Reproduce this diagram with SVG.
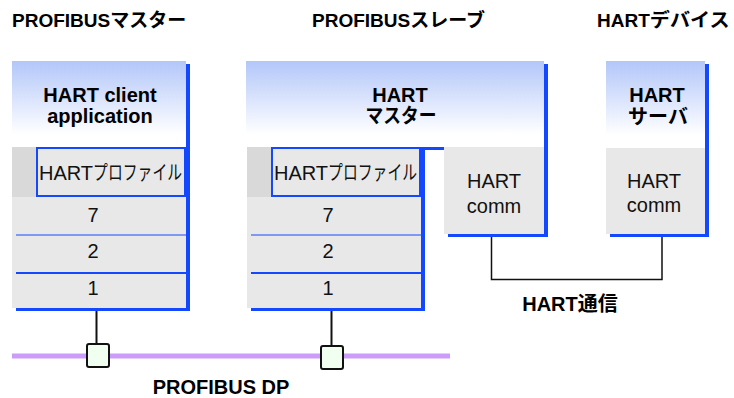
<svg xmlns="http://www.w3.org/2000/svg" width="734" height="398" viewBox="0 0 734 398">
  <defs>
    <linearGradient id="hdr" x1="0" y1="0" x2="0" y2="1">
      <stop offset="0" stop-color="#b2c6f9"/>
      <stop offset="0.85" stop-color="#ffffff"/>
      <stop offset="1" stop-color="#ffffff"/>
    </linearGradient>
    <style>
      .title { font-family: "Liberation Sans", "Noto Sans CJK JP", sans-serif; font-weight: bold; font-size: 19px; fill: #000; }
      .head { font-family: "Liberation Sans", "Noto Sans CJK JP", sans-serif; font-weight: bold; font-size: 20px; fill: #000; text-anchor: middle; }
      .body { font-family: "Liberation Sans", "Noto Sans CJK JP", sans-serif; font-size: 20px; fill: #111; }
      .mid { text-anchor: middle; }
      .shadow { fill: #1448ff; }
      .face { fill: url(#hdr); }
      .gray { fill: #e8e8e8; }
      .grayd { fill: #d9d9d9; }
      .prof { fill: #e8e8e8; stroke: #1448ff; stroke-width: 2; }
      .sep1 { stroke: #1448ff; stroke-width: 1.2; }
      .sep2 { stroke: #1448ff; stroke-width: 2.2; }
      .wire { stroke: #111; stroke-width: 2; fill: none; }
      .hwire { stroke: #111; stroke-width: 1.5; fill: none; }
      .bus { stroke: #cc9cfa; stroke-width: 5; }
      .tap { fill: #f0fff0; stroke: #111; stroke-width: 2; }
    </style>
  </defs>

  <!-- section titles -->
  <text class="title" x="12" y="27">PROFIBUS<tspan>マスター</tspan></text>
  <text class="title" x="312" y="27">PROFIBUS<tspan>スレーブ</tspan></text>
  <text class="title" x="597" y="27">HART<tspan textLength="80" lengthAdjust="spacingAndGlyphs">デバイス</tspan></text>

  <!-- connectors -->
  <g id="connectors">
    <line class="bus" x1="12" y1="356" x2="450" y2="356"/>
    <line class="wire" x1="96.5" y1="311" x2="96.5" y2="343"/>
    <line class="wire" x1="331.5" y1="311" x2="331.5" y2="345"/>
    <polyline class="hwire" points="491.5,237 491.5,279.5 662,279.5 662,237"/>
  </g>

  <!-- PROFIBUS master -->
  <g id="profibus-master">
    <rect class="shadow" x="16" y="64" width="174" height="247"/>
    <rect class="face" x="12" y="61" width="174" height="86"/>
    <rect class="gray" x="12" y="147" width="174" height="161"/>
    <rect class="grayd" x="12" y="147" width="24" height="50"/>
    <rect class="prof" x="37" y="148" width="148" height="48"/>
    <line class="sep1" x1="16" y1="235" x2="186" y2="235"/>
    <line class="sep2" x1="16" y1="273" x2="186" y2="273"/>
    <text class="head" x="100" y="102">HART client</text>
    <text class="head" x="100" y="123">application</text>
    <text class="body" x="39" y="180">HART<tspan textLength="89" lengthAdjust="spacingAndGlyphs">プロファイル</tspan></text>
    <text class="body mid" x="93" y="222">7</text>
    <text class="body mid" x="93" y="258">2</text>
    <text class="body mid" x="93" y="295">1</text>
  </g>

  <!-- PROFIBUS slave -->
  <g id="profibus-slave">
    <rect class="shadow" x="250" y="64" width="298" height="86"/>
    <rect class="shadow" x="251" y="150" width="174" height="161"/>
    <rect class="shadow" x="448" y="150" width="100" height="87"/>
    <rect class="face" x="246" y="61" width="298" height="86"/>
    <rect class="gray" x="247" y="147" width="174" height="161"/>
    <rect class="grayd" x="247" y="147" width="24" height="50"/>
    <rect class="prof" x="272" y="148" width="148" height="48"/>
    <rect class="gray" x="444" y="147" width="100" height="87"/>
    <line class="sep1" x1="251" y1="235" x2="421" y2="235"/>
    <line class="sep2" x1="251" y1="273" x2="421" y2="273"/>
    <text class="head" x="400" y="102">HART</text>
    <text class="head" x="401" y="123"><tspan textLength="71" lengthAdjust="spacingAndGlyphs">マスター</tspan></text>
    <text class="body" x="274" y="180">HART<tspan textLength="89" lengthAdjust="spacingAndGlyphs">プロファイル</tspan></text>
    <text class="body mid" x="328" y="222">7</text>
    <text class="body mid" x="328" y="258">2</text>
    <text class="body mid" x="328" y="295">1</text>
    <text class="body mid" x="494" y="188">HART</text>
    <text class="body mid" x="494" y="213">comm</text>
  </g>

  <!-- HART device -->
  <g id="hart-device">
    <rect class="shadow" x="610" y="64" width="99" height="173"/>
    <rect class="face" x="606" y="61" width="99" height="87"/>
    <rect class="gray" x="606" y="148" width="99" height="86"/>
    <text class="head" x="657" y="102">HART</text>
    <text class="head" x="658" y="124">サーバ</text>
    <text class="body mid" x="654" y="188">HART</text>
    <text class="body mid" x="654" y="212">comm</text>
  </g>

  <!-- bus taps -->
  <g id="tap-master">
    <rect class="tap" x="87" y="344" width="22" height="23" rx="2"/>
  </g>
  <g id="tap-slave">
    <rect class="tap" x="321" y="346" width="22" height="23" rx="2"/>
  </g>

  <!-- link labels -->
  <text class="head" x="570" y="311">HART<tspan>通信</tspan></text>
  <text class="head" x="221" y="394">PROFIBUS DP</text>
</svg>
